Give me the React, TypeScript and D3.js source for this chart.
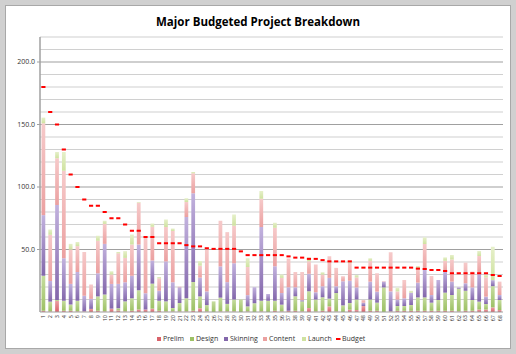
import React from 'react';
import * as d3 from 'd3';

// values, one entry per project (1..68)
const projects = d3.range(1, 69).map(String);

const prelim = [
	1, 0.5, 9, 1, 1, 0.5, 0.5, 2.5, 1, 0.5, 2.7, 1.3, 0.5, 1, 2, 2, 2.7, 1, 0.5, 0.5,
	0.5, 0.5, 1, 3, 0.5, 0, 0.5, 0.5, 0.5, 0, 0.5, 0, 0.5, 0, 1, 0.5, 1, 1, 0.5, 3.2,
	0.5, 1, 4.5, 0.5, 0, 1.9, 1.6, 4.8, 1, 1, 0, 0.5, 1, 1, 1, 1, 1, 1, 1, 1,
	1, 0.5, 1, 1, 2, 2, 3.7, 1.6
];
const design = [
	28, 7.8, 0.6, 8, 5, 8.5, 0, 0, 11.5, 13.5, 0, 1.7, 8, 10, 15.4, 0, 20, 8, 8, 2.7,
	6.7, 10.5, 23, 9.5, 5, 8.5, 11, 6, 9.5, 10, 4, 7, 8.5, 9, 8, 5.4, 0, 11.6, 8, 13.4,
	9.5, 10.8, 6.2, 14.7, 5.3, 5.3, 8.4, 0, 9, 6.5, 19.7, 0, 3.8, 3.8, 4.6, 10.7, 10.7, 6.5, 8.6, 14.5,
	12.6, 18.2, 16, 8.6, 6.3, 4.4, 17, 8
];
const skinning = [
	48.5, 16.5, 76, 34, 16.5, 23, 12.5, 8, 18.5, 40.5, 19.8, 19.5, 15.3, 18, 36.6, 13, 18.5, 8, 32, 20.6,
	12.6, 65, 71, 15, 11, 0, 25, 17.4, 29, 0, 9, 12.8, 59, 5.4, 27.6, 9.3, 18.8, 7.2, 1, 14,
	5.8, 8.8, 16.6, 5.4, 19.3, 17.8, 9.7, 2.7, 14.3, 8.8, 4.6, 16, 5.2, 6.2, 9.9, 11.8, 21.9, 6.1, 16, 16.8,
	10.7, 1, 6, 10.1, 22.7, 5.9, 4.8, 4
];
const content = [
	73.5, 37, 37.4, 70, 27.5, 20.7, 35, 11.5, 26, 16, 7.5, 24.5, 19.5, 25, 33.4, 45, 27, 10, 27.5, 41,
	0.5, 12, 16, 9.6, 33.5, 0, 36.5, 40, 30, 0, 22.5, 0, 22.6, 0, 30.8, 12.1, 23, 12.2, 22.5, 10,
	22.2, 9.4, 17.3, 14.7, 4, 14.3, 8, 2.1, 16.7, 14.7, 0.3, 31.3, 6.5, 14.6, 0, 11.5, 20.8, 15.2, 0, 8.7,
	17.7, 0, 16.5, 12.6, 13.8, 15.4, 0, 10.7
];
const launch = [
	4.5, 4.2, 5, 15, 4.5, 3.3, 0, 0, 4, 2.5, 2.6, 1, 5.4, 8, 0.5, 0, 2.6, 1, 6, 2,
	0, 3, 1, 3.7, 0, 0, 0, 0, 9, 0, 7, 0, 6.2, 0, 4, 2.7, 0, 0, 0, 3.2,
	0, 1.8, 0, 0, 0, 1.7, 1.9, 0, 2, 0, 0, 0, 3, 0, 1.5, 1.8, 5.3, 0, 0, 2.7,
	3.6, 0, 0, 0, 4, 1.9, 26.7, 0
];
const budget = [
	180, 160, 150, 130, 110, 100, 90, 85, 85, 80, 75, 75, 70, 65, 65, 60, 60, 55, 55, 55,
	55, 53.5, 52.5, 52.5, 51, 50.5, 50.5, 50.5, 50.5, 48.5, 45.5, 45.5, 45.5, 45.5, 45.5, 45.5, 44.5, 43.5, 43.5, 42.5,
	42.5, 41.5, 40.5, 40.5, 40.5, 40.5, 35.5, 35.5, 35.5, 35.5, 35.5, 35.5, 35.5, 35.5, 35.5, 34.7, 34.4, 33.6, 33.6, 32.8,
	31, 31, 31, 31, 31, 31, 29.6, 28.8
];

const seriesNames = ['Prelim', 'Design', 'Skinning', 'Content', 'Launch'];
const seriesValues = [prelim, design, skinning, content, launch];
const yTicks = [50, 100, 150, 200];

const baseColors = ['#d9626a', '#9dc165', '#8367ab', '#eba0a0', '#cfe2a0'];
const lightColors = ['#eaa0a4', '#c6dc9f', '#c2b2de', '#f6caca', '#e6f0ca'];

const W = 516;
const H = 354;
const margin = { top: 37, right: 13, bottom: 42, left: 40 };
const font = '"Open Sans", "Noto Sans", sans-serif';

const App = () => {
	const plotBottom = H - margin.bottom;
	const x = d3.scaleBand()
		.domain(projects)
		.range([margin.left, W - margin.right])
		.paddingInner(0.45)
		.paddingOuter(0.225);
	const y = d3.scaleLinear().domain([0, 220]).range([plotBottom, margin.top]);

	const table = projects.map((p, i) => {
		const row = { project: p };
		seriesNames.forEach((s, k) => { row[s] = seriesValues[k][i]; });
		return row;
	});
	const stacked = d3.stack().keys(seriesNames)(table);
	const grid = d3.range(10, 230, 10);

	const legend = [
		{ name: 'Prelim', x: 157 },
		{ name: 'Design', x: 190 },
		{ name: 'Skinning', x: 224 },
		{ name: 'Content', x: 263 },
		{ name: 'Launch', x: 302 },
		{ name: 'Budget', x: 336 }
	];

	return (
		<svg width={ W } height={ H } style={ { position: 'absolute', left: 0, top: 0 } }>
			<defs>
				{ seriesNames.map((s, k) => (
					<linearGradient key={ s } id={ `g${ k }` } x1="0" y1="0" x2="0" y2="1">
						<stop offset="0" stopColor={ lightColors[k] }/>
						<stop offset="1" stopColor={ baseColors[k] }/>
					</linearGradient>
				)) }
			</defs>
			<rect width={ W } height={ H } fill="#d0d0d0"/>
			<rect x={ 5.5 } y={ 5.5 } width={ 505 } height={ 343 } fill="#fff" stroke="#a8a8a8"/>
			<text x={ 258 } y={ 26 } textAnchor="middle" fontFamily={ font } fontWeight="bold"
				fontSize={ 11.5 } fill="#000">Major Budgeted Project Breakdown</text>

			{ grid.map((v) => (
				<line key={ v } x1={ margin.left } x2={ W - margin.right } y1={ y(v) } y2={ y(v) }
					stroke={ v % 50 === 0 ? '#a0a0a0' : '#d0d0d0' } strokeWidth={ 1.2 }/>
			)) }
			{ yTicks.map((v) => (
				<g key={ v }>
					<line x1={ margin.left - 3 } x2={ margin.left } y1={ y(v) } y2={ y(v) } stroke="#a0a0a0"/>
					<text x={ 35 } y={ y(v) } dy="0.35em" textAnchor="end" fontFamily={ font }
						fontSize={ 7 } fill="#333">{ v.toFixed(1) }</text>
				</g>
			)) }

			{ stacked.map((layer, k) => (
				<g key={ layer.key } fill={ `url(#g${ k })` }>
					{ layer.map((d, i) => (d[1] - d[0] > 0 ? (
						<rect key={ i } x={ x(projects[i]) } width={ x.bandwidth() }
							y={ y(d[1]) } height={ y(d[0]) - y(d[1]) }/>
					) : null)) }
				</g>
			)) }

			{ budget.map((b, i) => (
				<rect key={ i } x={ x(projects[i]) - 0.2 } width={ x.bandwidth() + 0.4 }
					y={ y(b) - 1 } height={ 2 } fill="#ff0000"/>
			)) }

			<line x1={ margin.left } x2={ margin.left } y1={ margin.top } y2={ plotBottom }
				stroke="#a0a0a0" strokeWidth={ 1.5 }/>
			<line x1={ margin.left } x2={ W - margin.right } y1={ plotBottom } y2={ plotBottom }
				stroke="#a0a0a0" strokeWidth={ 1.2 }/>

			{ projects.map((p) => (
				<text key={ p } transform={ `translate(${ x(p) + x.bandwidth() / 2 },${ plotBottom + 3 }) rotate(-90)` }
					textAnchor="end" dy="0.35em" fontFamily={ font } fontSize={ 5.5 } fill="#333">{ p }</text>
			)) }

			{ legend.map((l, k) => (
				<g key={ l.name } transform={ `translate(${ l.x },339)` }>
					{ k < 5
						? <rect x={ 0 } y={ -2 } width={ 4 } height={ 4 } fill={ baseColors[k] }/>
						: <rect x={ 0 } y={ -1 } width={ 4.5 } height={ 2 } fill="#ff0000"/> }
					<text x={ 6 } dy="0.35em" fontFamily={ font } fontSize={ 7 } fill="#333">{ l.name }</text>
				</g>
			)) }
		</svg>
	);
};

export default App;
